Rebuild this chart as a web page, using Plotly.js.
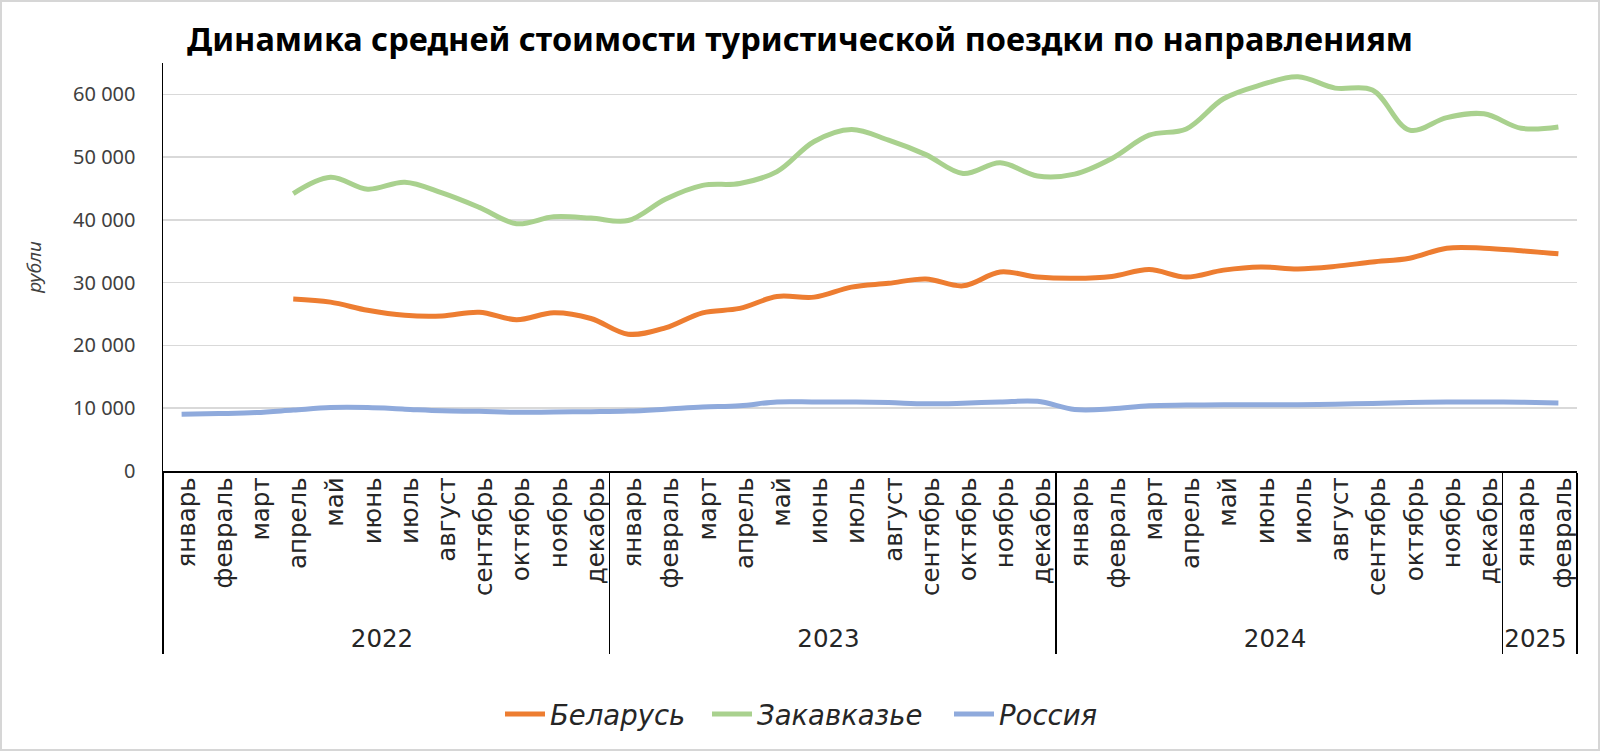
<!DOCTYPE html>
<html>
<head>
<meta charset="utf-8">
<script src="https://cdn.plot.ly/plotly-3.0.1.min.js"></script>
<style>
  html, body { margin: 0; padding: 0; background: #fff; }
  #chart { width: 1600px; height: 751px; outline: 2px solid #d6d6d6; outline-offset: -2px; }
</style>
</head>
<body>
<div id="chart"></div>
<script>
// Category labels (year level and month level)
const years = [
  "2022","2022","2022","2022","2022","2022","2022","2022","2022","2022","2022","2022",
  "2023","2023","2023","2023","2023","2023","2023","2023","2023","2023","2023","2023",
  "2024","2024","2024","2024","2024","2024","2024","2024","2024","2024","2024","2024",
  "2025","2025"
];
const months = [
  "январь","февраль","март","апрель","май","июнь","июль","август","сентябрь","октябрь","ноябрь","декабрь",
  "январь","февраль","март","апрель","май","июнь","июль","август","сентябрь","октябрь","ноябрь","декабрь",
  "январь","февраль","март","апрель","май","июнь","июль","август","сентябрь","октябрь","ноябрь","декабрь",
  "январь","февраль"
];

// Series values, рубли
const belarus = [
  null, null, null, 27400, 26900, 25600, 24800, 24700, 25300, 24100, 25200, 24300,
  21800, 22800, 25200, 25900, 27800, 27700, 29300, 29900, 30600, 29500, 31700, 30900,
  30700, 31000, 32100, 30900, 32000, 32500, 32200, 32600, 33300, 33900, 35500, 35500,
  35100, 34600
];
const zakavkazye = [
  null, null, null, 44200, 46800, 44900, 46000, 44300, 42000, 39400, 40500, 40300,
  39900, 43300, 45500, 45800, 47700, 52500, 54400, 52700, 50400, 47400, 49100, 47000,
  47300, 49800, 53500, 54500, 59300, 61500, 62800, 61000, 60700, 54300, 56300, 56900,
  54600, 54800
];
const russia = [
  9050, 9150, 9300, 9700, 10100, 10100, 9850, 9600, 9500, 9350, 9400, 9450,
  9550, 9850, 10200, 10400, 11000, 11000, 11000, 10900, 10700, 10800, 11000, 11100,
  9800, 9900, 10400, 10500, 10550, 10550, 10550, 10650, 10750, 10900, 11000, 11000,
  10950, 10850
];

const seriesNames = ["Беларусь", "Закавказье", "Россия"];
const seriesColors = ["#ED7D31", "#A9D18E", "#8FAADC"];
const seriesValues = [belarus, zakavkazye, russia];
const legendIds = ["legend", "legend2", "legend3"];

const traces = seriesValues.map((vals, k) => ({
  type: "scatter",
  mode: "lines",
  name: seriesNames[k],
  legend: legendIds[k],
  x: [years, months],
  y: vals,
  line: { color: seriesColors[k], width: 5, shape: "spline", smoothing: 1 },
  hoverinfo: "skip"
}));

const baseFont = "'Noto Sans', 'DejaVu Sans', sans-serif";
const wideFont = "'DejaVu Sans', 'Noto Sans', sans-serif";

function legendAt(xpx) {
  return {
    orientation: "h",
    xref: "container", yref: "container",
    x: xpx / 1600, xanchor: "left",
    y: 0.049, yanchor: "middle",
    font: { family: wideFont, size: 27.5, color: "#262626", style: "italic" },
    itemwidth: 40,
    bgcolor: "rgba(0,0,0,0)"
  };
}

const layout = {
  width: 1600,
  height: 751,
  paper_bgcolor: "rgba(0,0,0,0)",
  plot_bgcolor: "#ffffff",
  margin: { l: 163, r: 23, t: 63, b: 280 },
  separators: ", ",
  showlegend: true,
  title: {
    text: "<b>Динамика средней стоимости туристической поездки по направлениям</b>",
    x: 0.5, xanchor: "center", xref: "container",
    y: 0.947, yanchor: "middle", yref: "container",
    font: { family: baseFont, size: 32.5, color: "#000000" }
  },
  xaxis: {
    type: "multicategory",
    range: [-0.5, months.length - 0.5],
    showline: true, linecolor: "#000000", linewidth: 1.5,
    showgrid: false,
    showdividers: true, dividercolor: "#000000", dividerwidth: 1.5,
    ticks: "",
    tickangle: -90,
    ticklabelshift: 5,
    ticklabelstandoff: -5,
    tickfont: { family: wideFont, size: 24.5, color: "#262626" },
    automargin: false
  },
  yaxis: {
    range: [0, 65000],
    tickvals: [0, 10000, 20000, 30000, 40000, 50000, 60000],
    tickformat: ",d",
    showline: true, linecolor: "#000000", linewidth: 1.5,
    showgrid: true, gridcolor: "#d9d9d9", gridwidth: 1.5,
    zeroline: false,
    ticks: "",
    ticklabelstandoff: 22,
    tickfont: { family: baseFont, size: 20, color: "#404040" },
    title: { text: "<i>рубли</i>", font: { family: baseFont, size: 19, color: "#404040" }, standoff: 26 },
    automargin: false
  },
  legend: legendAt(500),
  legend2: legendAt(707),
  legend3: legendAt(949),
  shapes: [
    { type: "line", xref: "paper", yref: "paper", x0: 0, x1: 0, y0: 0, y1: -0.446,
      line: { color: "#000000", width: 1.5 } }
  ]
};

Plotly.newPlot("chart", traces, layout, { displayModeBar: false, staticPlot: true });
</script>
</body>
</html>
